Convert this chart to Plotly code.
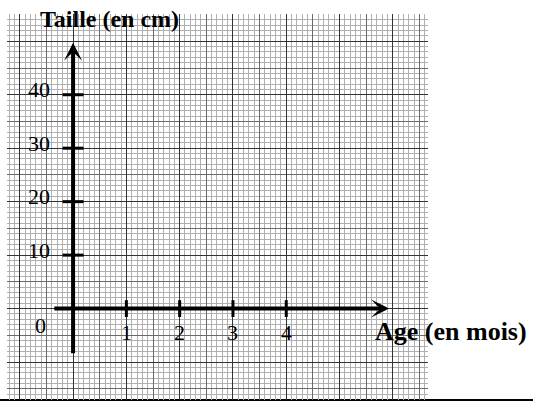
import plotly.graph_objects as go

# ---- data ----
x_ticks = [1, 2, 3, 4]
x_tick_labels = ["1", "2", "3", "4"]
y_ticks = [10, 20, 30, 40]
y_tick_labels = ["10", "20", "30", "40"]
x_title = "Age (en mois)"
y_title = "Taille (en cm)"

# ---- ranges (graph paper extent) ----
X_RANGE = [-1.24, 6.66]
Y_RANGE = [-17.1, 55.1]
X_AXIS_START, X_AXIS_END = -0.38, 5.93
Y_AXIS_START, Y_AXIS_END = -8.65, 49.7

FONT = "Liberation Serif, Times New Roman, serif"

fig = go.Figure()

# invisible trace to activate the overlay axes (darker integer lines)
fig.add_trace(go.Scatter(x=[X_RANGE[0]], y=[Y_RANGE[0]], xaxis="x2", yaxis="y2",
                         mode="markers", marker=dict(opacity=0), hoverinfo="skip",
                         showlegend=False))

# tick marks on axes
fig.add_trace(go.Scatter(x=x_ticks, y=[0] * len(x_ticks), mode="markers",
                         marker=dict(symbol="line-ns", size=12,
                                     line=dict(color="black", width=3)),
                         hoverinfo="skip", showlegend=False))
fig.add_trace(go.Scatter(x=[0] * len(y_ticks), y=y_ticks, mode="markers",
                         marker=dict(symbol="line-ew", size=15,
                                     line=dict(color="black", width=3)),
                         hoverinfo="skip", showlegend=False))

annotations = []
# axes with arrows
annotations.append(dict(x=X_AXIS_END, y=0, ax=X_AXIS_START, ay=0,
                        xref="x", yref="y", axref="x", ayref="y", text="",
                        showarrow=True, arrowhead=3, arrowsize=0.75,
                        arrowwidth=4, arrowcolor="black"))
annotations.append(dict(x=0, y=Y_AXIS_END, ax=0, ay=Y_AXIS_START,
                        xref="x", yref="y", axref="x", ayref="y", text="",
                        showarrow=True, arrowhead=3, arrowsize=0.75,
                        arrowwidth=4, arrowcolor="black"))

# tick labels
for xv, lab in zip(x_ticks, x_tick_labels):
    annotations.append(dict(x=xv, y=-4.4, xref="x", yref="y", text=lab,
                            showarrow=False, font=dict(family=FONT, size=22, color="black")))
for yv, lab in zip(y_ticks, y_tick_labels):
    annotations.append(dict(x=-0.39, y=yv + 0.9, xref="x", yref="y", text=lab,
                            xanchor="right", showarrow=False,
                            font=dict(family=FONT, size=22, color="black")))
annotations.append(dict(x=-0.62, y=-3.2, xref="x", yref="y", text="0",
                        showarrow=False, font=dict(family=FONT, size=22, color="black")))

# titles
annotations.append(dict(x=0.69, y=54.2, xref="x", yref="y", text="<b>" + y_title + "</b>",
                        showarrow=False, font=dict(family=FONT, size=24, color="black")))
# x title lies outside the paper range -> paper coordinates
annotations.append(dict(x=(451 - 7) / 421, y=(400 - 331) / 386, xref="paper", yref="paper",
                        xanchor="center", yanchor="middle",
                        text="<b>" + x_title + "</b>", showarrow=False,
                        font=dict(family=FONT, size=26, color="black")))

common_axis = dict(showticklabels=False, ticks="", zeroline=False, showline=False,
                   fixedrange=True)

fig.update_layout(
    width=533, height=401,
    margin=dict(l=7, r=105, t=14, b=1),
    paper_bgcolor="white", plot_bgcolor="white",
    showlegend=False,
    hovermode=False,
    xaxis=dict(range=X_RANGE, tick0=0, dtick=0.5, showgrid=True,
               gridcolor="#6a6a6a", gridwidth=1,
               minor=dict(dtick=0.1, tick0=0, showgrid=True, gridcolor="#b0b0b0", gridwidth=1),
               **common_axis),
    yaxis=dict(range=Y_RANGE, tick0=0, dtick=5, showgrid=True,
               gridcolor="#6a6a6a", gridwidth=1,
               minor=dict(dtick=1, tick0=0, showgrid=True, gridcolor="#b0b0b0", gridwidth=1),
               **common_axis),
    xaxis2=dict(range=X_RANGE, overlaying="x", tick0=0, dtick=1, showgrid=True,
                gridcolor="#333333", gridwidth=1, **common_axis),
    yaxis2=dict(range=Y_RANGE, overlaying="y", tick0=0, dtick=10, showgrid=True,
                gridcolor="#333333", gridwidth=1, **common_axis),
    annotations=annotations,
    shapes=[dict(type="line", xref="paper", yref="paper", x0=-0.02, x1=1.3,
                 y0=0.0, y1=0.0, line=dict(color="black", width=2), layer="below")],
)

fig.write_html("out.html", config={"displayModeBar": False, "staticPlot": True},
               post_script="document.body.style.margin='0';document.body.style.overflow='hidden';")
